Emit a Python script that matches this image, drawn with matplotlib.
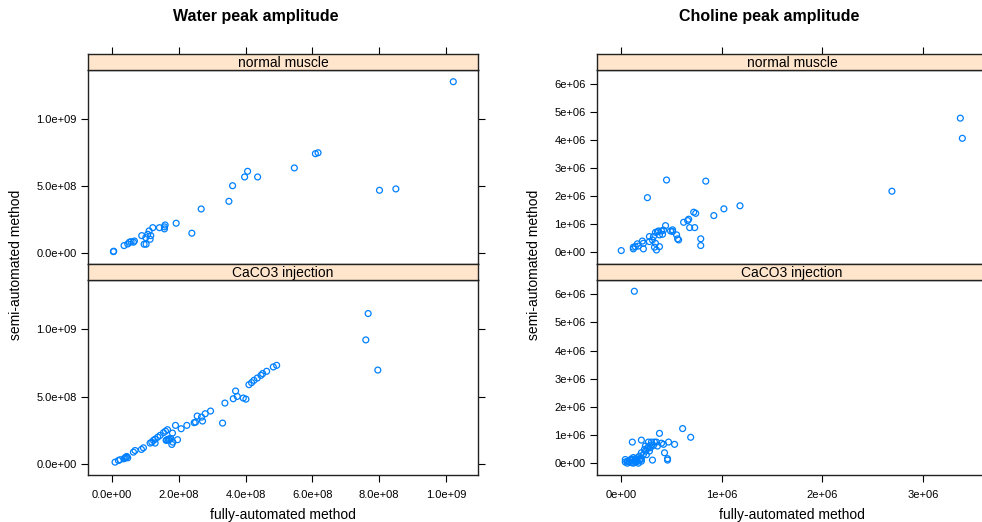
import matplotlib
matplotlib.use("Agg")
import matplotlib.pyplot as plt
import numpy as np

plt.rcParams['font.family'] = ['Liberation Sans', 'DejaVu Sans']

# Water peak amplitude, values in units of 1e8
water_normal_x = [10.22, 0.04, 0.05, 0.36, 0.47, 0.52, 0.57, 0.64, 0.67, 0.89, 0.96, 1.02, 1.01, 1.07, 1.11,
                  1.14, 1.16, 1.22, 1.42, 1.57, 1.59, 1.57, 1.92, 2.39, 2.67, 3.50, 3.61, 3.97, 4.06, 4.36,
                  5.46, 6.09, 6.17, 8.01, 8.50]
water_normal_y = [12.75, 0.12, 0.15, 0.57, 0.69, 0.82, 0.86, 0.82, 0.91, 1.31, 0.67, 0.67, 1.16, 1.41, 1.66,
                  1.04, 1.31, 1.90, 1.90, 1.81, 2.10, 1.96, 2.23, 1.49, 3.29, 3.86, 5.02, 5.67, 6.09, 5.67,
                  6.34, 7.40, 7.47, 4.68, 4.78]

water_caco3_x = [7.67, 7.60, 7.96, 4.93, 4.83, 4.63, 4.51, 4.46, 4.35, 4.25, 4.18, 4.10,
                 3.70, 3.75, 3.63, 3.93, 4.01, 3.38, 3.31, 2.95, 2.79, 2.68, 2.55, 2.71, 2.50, 2.46,
                 2.24, 2.07, 1.90, 1.96, 1.81, 1.79, 1.66, 1.60, 1.54, 1.44, 1.37, 1.29,
                 1.64, 1.68, 1.72, 1.62, 1.76, 1.70, 1.82, 1.24, 1.19, 1.14, 1.29,
                 0.94, 0.88, 0.69, 0.64, 0.44, 0.39, 0.47, 0.36, 0.42, 0.24, 0.19, 0.09]
water_caco3_y = [11.14, 9.19, 6.96, 7.31, 7.19, 6.87, 6.70, 6.57, 6.37, 6.20, 6.03, 5.88,
                 5.41, 5.01, 4.84, 4.89, 4.81, 4.52, 3.04, 3.93, 3.73, 3.48, 3.56, 3.19, 3.11, 3.07,
                 2.87, 2.62, 2.87, 1.81, 2.30, 1.46, 2.55, 2.44, 2.33, 2.13, 2.00, 1.85,
                 1.80, 1.84, 1.88, 1.76, 1.90, 1.78, 1.63, 1.76, 1.63, 1.56, 1.56,
                 1.21, 1.09, 1.01, 0.89, 0.57, 0.47, 0.47, 0.40, 0.52, 0.33, 0.27, 0.15]

# Choline peak amplitude, values in units of 1e6
choline_normal_x = [3.37, 3.39, 2.69, 1.18, 1.02, 0.92, 0.84, 0.45, 0.26, 0.00,
                    0.72, 0.74, 0.67, 0.66, 0.62, 0.68, 0.73, 0.79, 0.79,
                    0.56, 0.57, 0.55, 0.51, 0.51, 0.49, 0.44, 0.42, 0.40, 0.37, 0.36, 0.34,
                    0.41, 0.38, 0.32, 0.28, 0.31, 0.28, 0.34, 0.33, 0.38, 0.35,
                    0.21, 0.22, 0.22, 0.17, 0.14, 0.12, 0.12, 0.16]
choline_normal_y = [4.79, 4.07, 2.18, 1.66, 1.55, 1.31, 2.54, 2.58, 1.95, 0.06,
                    1.43, 1.39, 1.18, 1.13, 1.07, 0.88, 0.88, 0.48, 0.24,
                    0.48, 0.44, 0.62, 0.80, 0.74, 0.76, 0.95, 0.79, 0.76, 0.76, 0.73, 0.71,
                    0.64, 0.62, 0.56, 0.56, 0.44, 0.38, 0.32, 0.18, 0.20, 0.08,
                    0.40, 0.32, 0.12, 0.22, 0.20, 0.18, 0.12, 0.30]

choline_caco3_x = [0.13, 0.61, 0.69, 0.38, 0.11, 0.20, 0.47, 0.53, 0.43, 0.46, 0.46, 0.31,
                   0.27, 0.30, 0.33, 0.35, 0.40, 0.42, 0.24, 0.27, 0.29, 0.32, 0.36,
                   0.23, 0.24, 0.28, 0.20, 0.22, 0.18, 0.16, 0.19, 0.14,
                   0.11, 0.13, 0.09, 0.08, 0.06, 0.04, 0.04, 0.06, 0.10, 0.12, 0.14, 0.16,
                   0.18, 0.20, 0.15, 0.12, 0.10, 0.25, 0.26, 0.30, 0.20, 0.17]
choline_caco3_y = [6.11, 1.23, 0.92, 1.06, 0.75, 0.82, 0.75, 0.67, 0.37, 0.16, 0.11, 0.11,
                   0.75, 0.75, 0.75, 0.75, 0.71, 0.67, 0.61, 0.58, 0.55, 0.63, 0.61,
                   0.49, 0.43, 0.43, 0.37, 0.31, 0.25, 0.19, 0.16, 0.16,
                   0.13, 0.07, 0.11, 0.04, 0.07, 0.04, 0.13, 0.00, 0.02, 0.00, 0.03, 0.06,
                   0.10, 0.14, 0.10, 0.20, 0.15, 0.30, 0.52, 0.65, 0.07, 0.00]

panel_names = ["normal muscle", "CaCO3 injection"]

water_xticks = [0, 2e8, 4e8, 6e8, 8e8, 1e9]
water_xlabels = ["0.0e+00", "2.0e+08", "4.0e+08", "6.0e+08", "8.0e+08", "1.0e+09"]
water_yticks = [0, 5e8, 1e9]
water_ylabels = ["0.0e+00", "5.0e+08", "1.0e+09"]

choline_xticks = [0, 1e6, 2e6, 3e6]
choline_xlabels = ["0e+00", "1e+06", "2e+06", "3e+06"]
choline_yticks = [0, 1e6, 2e6, 3e6, 4e6, 5e6, 6e6]
choline_ylabels = ["0e+00", "1e+06", "2e+06", "3e+06", "4e+06", "5e+06", "6e+06"]

W, H = 982, 522
BLUE = "#0080ff"
STRIP = "#ffe5cc"


def box(x0, y0, x1, y1):
    # pixel box (top-left origin) -> figure fraction
    return [x0 / W, 1 - y1 / H, (x1 - x0) / W, (y1 - y0) / H]


def draw_column(fig, x0, x1, scale, series, xlim, ylim, xticks, xlabels, yticks, ylabels,
                title, title_x, ylab_x):
    rows = [(54, 70, 264), (264, 280, 475)]
    for i, ((s0, s1, p1), name, (xs, ys)) in enumerate(zip(rows, panel_names, series)):
        ax = fig.add_axes(box(x0, s1, x1, p1))
        ax.scatter(np.array(xs) * scale, np.array(ys) * scale, s=18, facecolors="none",
                   edgecolors=BLUE, linewidths=0.9)
        ax.set_xlim(xlim)
        ax.set_ylim(ylim)
        ax.set_yticks(yticks, ylabels)
        ax.tick_params(axis="y", left=True, right=True, labelleft=True, labelright=False,
                       direction="out", length=5, width=0.8, labelsize=8, pad=3)
        if i == 1:
            ax.set_xticks(xticks, xlabels)
            ax.tick_params(axis="x", bottom=True, top=False, direction="out", length=5,
                           width=0.8, labelsize=8, pad=6)
        else:
            ax.set_xticks([])
        for sp in ax.spines.values():
            sp.set_linewidth(1.0)
            sp.set_color("#222222")

        strip = fig.add_axes(box(x0, s0, x1, s1), facecolor=STRIP)
        strip.set_xlim(xlim)
        strip.set_yticks([])
        if i == 0:
            strip.set_xticks(xticks)
            strip.tick_params(axis="x", top=True, bottom=False, labeltop=False, labelbottom=False,
                              direction="out", length=5, width=0.8)
        else:
            strip.set_xticks([])
        for sp in strip.spines.values():
            sp.set_linewidth(1.0)
            sp.set_color("#222222")
        strip.text(0.5, 0.45, name, ha="center", va="center", transform=strip.transAxes, fontsize=10)

    fig.text(title_x / W, 1 - 17 / H, title, ha="center", va="center", fontsize=11.5, fontweight="bold")
    fig.text(ylab_x / W, 1 - 265 / H, "semi-automated method", rotation=90, ha="center",
             va="center", fontsize=10)
    fig.text((x0 + x1) / 2 / W, 1 - 515 / H, "fully-automated method", ha="center",
             va="center", fontsize=10)


fig = plt.figure(figsize=(W / 100, H / 100), dpi=100)

draw_column(fig, 88, 478, 1e8,
            [(water_normal_x, water_normal_y), (water_caco3_x, water_caco3_y)],
            (-0.072e9, 1.096e9), (-0.08e9, 1.362e9),
            water_xticks, water_xlabels, water_yticks, water_ylabels,
            "Water peak amplitude", 256, 16)

draw_column(fig, 597, 987, 1e6,
            [(choline_normal_x, choline_normal_y), (choline_caco3_x, choline_caco3_y)],
            (-0.241e6, 3.635e6), (-0.42e6, 6.51e6),
            choline_xticks, choline_xlabels, choline_yticks, choline_ylabels,
            "Choline peak amplitude", 769, 534)

fig.savefig("out.png", dpi=100)
